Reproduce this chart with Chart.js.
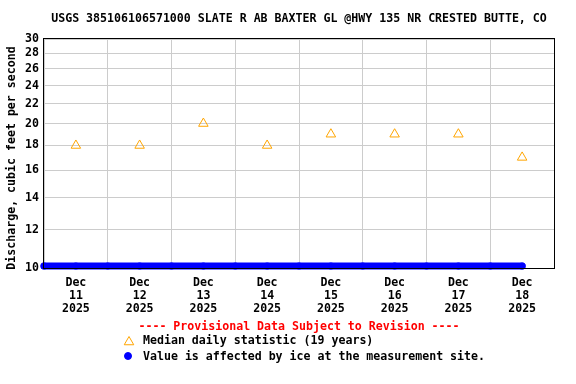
<!DOCTYPE html>
<html>
<head>
<meta charset="utf-8">
<script src="https://cdn.jsdelivr.net/npm/chart.js"></script>
<style>
  html, body { margin: 0; padding: 0; background: #fff; }
  #wrap { width: 576px; height: 384px; }
</style>
</head>
<body>
<div id="wrap"><canvas id="chart" width="576" height="384"></canvas></div>
<script>
// Chart data
const chartTitle = "USGS 385106106571000 SLATE R AB BAXTER GL @HWY 135 NR CRESTED BUTTE, CO";
const yAxisTitle = "Discharge, cubic feet per second";
const monthLabel = "Dec";
const yearLabel = "2025";
const dayLabels = ["11", "12", "13", "14", "15", "16", "17", "18"];
// x positions in days since Dec 11 00:00
const medianX = [0.5, 1.5, 2.5, 3.5, 4.5, 5.5, 6.5, 7.5];
const medianValues = [18, 18, 20, 18, 19, 19, 19, 17];
const iceX = [0, 0.5, 1, 1.5, 2, 2.5, 3, 3.5, 4, 4.5, 5, 5.5, 6, 6.5, 7, 7.5];
const iceValues = [10.1, 10.1, 10.1, 10.1, 10.1, 10.1, 10.1, 10.1, 10.1, 10.1, 10.1, 10.1, 10.1, 10.1, 10.1, 10.1];
const yTicks = [10, 12, 14, 16, 18, 20, 22, 24, 26, 28, 30];
const provisionalText = "---- Provisional Data Subject to Revision ----";
const medianLegend = "Median daily statistic (19 years)";
const iceLegend = "Value is affected by ice at the measurement site.";

const FONT = "'DejaVu Sans Mono', monospace";
const fontSize = 11.6;

// Title, frame, axis title and legend drawn on the canvas
const decorPlugin = {
  id: "decor",
  afterDraw(chart) {
    const ctx = chart.ctx;
    const area = chart.chartArea;
    ctx.save();
    ctx.strokeStyle = "#000";
    ctx.lineWidth = 1;
    ctx.strokeRect(Math.round(area.left) - 0.5, Math.round(area.top) - 0.5,
      Math.round(area.right - area.left) + 1, Math.round(area.bottom - area.top) + 1);

    ctx.font = "bold " + fontSize + "px " + FONT;
    ctx.textBaseline = "middle";
    ctx.fillStyle = "#000";
    ctx.textAlign = "center";
    ctx.fillText(chartTitle, 299, 19);

    // y axis title
    ctx.save();
    ctx.translate(12, 158);
    ctx.rotate(-Math.PI / 2);
    ctx.fillText(yAxisTitle, 0, 0);
    ctx.restore();

    ctx.fillStyle = "#ff0000";
    ctx.fillText(provisionalText, 299, 327);

    ctx.textAlign = "left";
    ctx.fillStyle = "#000";
    ctx.fillText(medianLegend, 143, 341);
    ctx.fillText(iceLegend, 143, 357);

    ctx.strokeStyle = "#ffa500";
    ctx.fillStyle = "rgba(0,0,0,0)";
    ctx.lineWidth = 1;
    Chart.helpers.drawPoint(ctx, { pointStyle: "triangle", radius: 5.5, borderWidth: 1 }, 129, 342);
    ctx.fillStyle = "#0000ff";
    ctx.strokeStyle = "#0000ff";
    Chart.helpers.drawPoint(ctx, { pointStyle: "circle", radius: 3.5, borderWidth: 1 }, 128, 356);
    ctx.restore();
  }
};

new Chart(document.getElementById("chart"), {
  type: "scatter",
  data: {
    datasets: [
      {
        label: "Median daily statistic",
        data: medianX.map((x, i) => ({ x: x, y: medianValues[i] })),
        pointStyle: "triangle",
        pointRadius: 5.5,
        pointBorderWidth: 1,
        borderColor: "#ffa500",
        backgroundColor: "rgba(255,255,255,0)",
        showLine: false
      },
      {
        label: "Ice affected",
        data: iceX.map((x, i) => ({ x: x, y: iceValues[i] })),
        showLine: true,
        borderColor: "#0000ff",
        backgroundColor: "#0000ff",
        borderWidth: 7,
        borderCapStyle: "round",
        pointRadius: 3.5,
        pointBorderWidth: 0,
        pointBorderColor: "#0000ff",
        pointBackgroundColor: "#0000ff",
        clip: false
      }
    ]
  },
  options: {
    responsive: false,
    animation: false,
    layout: { padding: { left: 0, right: 22, top: 39, bottom: 0 } },
    plugins: {
      legend: { display: false },
      title: { display: false },
      tooltip: { enabled: false }
    },
    scales: {
      x: {
        type: "linear",
        position: "bottom",
        min: 0,
        max: 8,
        ticks: { display: false, stepSize: 1 },
        grid: { color: "#cccccc", drawTicks: false },
        border: { display: false },
        afterFit(axis) { axis.height = 0; }
      },
      x2: {
        type: "linear",
        position: "bottom",
        min: 0,
        max: 8,
        afterBuildTicks(axis) {
          axis.ticks = medianX.map(v => ({ value: v }));
        },
        ticks: {
          autoSkip: false,
          maxRotation: 0,
          padding: 8,
          color: "#000",
          font: { family: FONT, size: fontSize, weight: "bold", lineHeight: 1.13 },
          callback: (value, index) => [monthLabel, dayLabels[index], yearLabel]
        },
        grid: { display: false, drawTicks: false },
        border: { display: false },
        afterFit(axis) { axis.height = 116; }
      },
      y: {
        type: "logarithmic",
        min: 10,
        max: 30,
        afterBuildTicks(axis) {
          axis.ticks = yTicks.map(v => ({ value: v }));
        },
        ticks: {
          padding: 5,
          color: "#000",
          font: { family: FONT, size: fontSize, weight: "bold" },
          callback: (value) => String(value)
        },
        grid: { color: "#cccccc", drawTicks: false },
        border: { display: false },
        afterFit(axis) { axis.width = 44; }
      }
    }
  },
  plugins: [decorPlugin]
});
</script>
</body>
</html>
